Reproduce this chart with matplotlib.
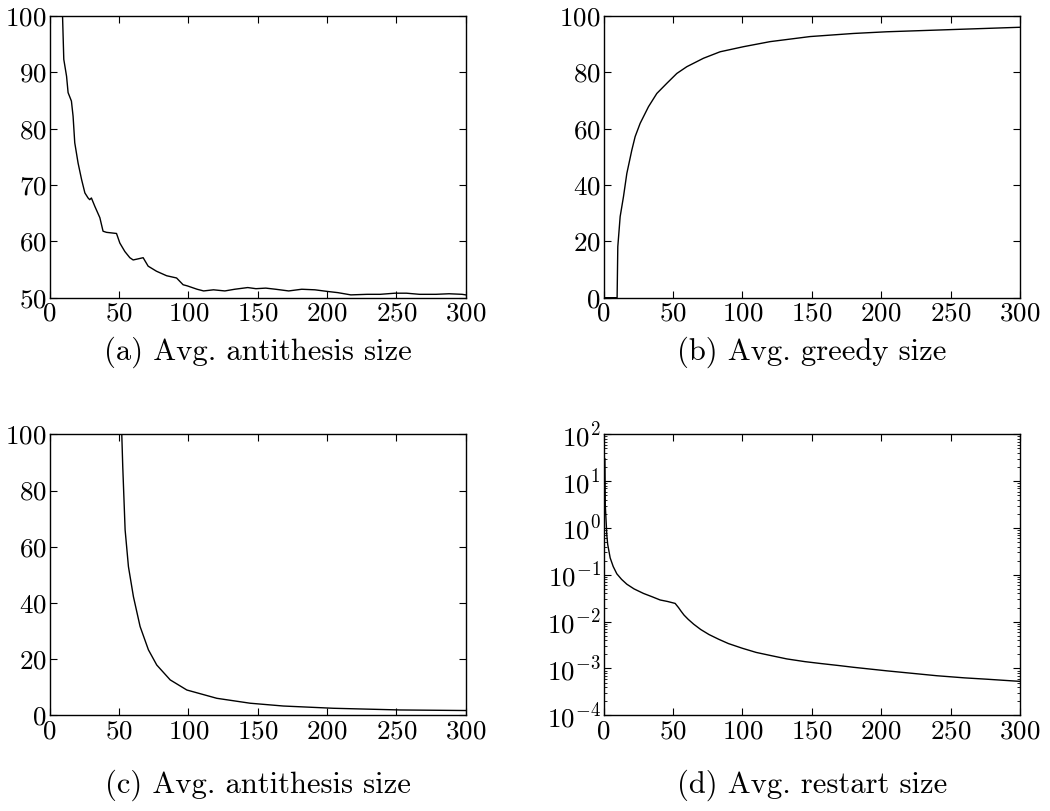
import matplotlib
matplotlib.use("Agg")
import matplotlib.pyplot as plt
from matplotlib.ticker import LogLocator, LogFormatterSciNotation, NullFormatter
import numpy as np

plt.rcParams['font.family'] = 'serif'
plt.rcParams['font.serif'] = ['cmr10']
plt.rcParams['mathtext.fontset'] = 'cm'
plt.rcParams['axes.formatter.use_mathtext'] = True

# (a) Avg. antithesis size
a_x = [8.5, 9.4, 10.3, 12.3, 13.4, 15.8, 17, 18.2, 20.6, 23.1, 25.5, 27.8, 29, 30.2, 32.7, 36.3,
       38.6, 41.1, 48.3, 50.7, 54.3, 57.9, 60.3, 64, 67.5, 71.1, 77.1, 84.4, 91.6, 96.3, 99.3,
       106.4, 111.1, 118.2, 126.4, 133.5, 142.9, 148.8, 155.9, 163, 172.4, 181.8, 191.3,
       200.7, 207.8, 217.2, 229, 238.4, 249, 257.3, 266.7, 278.5, 288, 297.4, 300]
a_y = [104, 100, 92.3, 89.3, 86.4, 84.9, 82.2, 77.5, 73.9, 71, 68.6, 67.7, 67.4, 67.7, 66.2, 64.2,
       61.8, 61.6, 61.4, 59.7, 58.2, 57.1, 56.7, 56.9, 57.1, 55.6, 54.7, 53.9, 53.5, 52.3, 52.1,
       51.5, 51.2, 51.4, 51.2, 51.5, 51.8, 51.6, 51.7, 51.5, 51.2, 51.5, 51.4,
       51.1, 50.9, 50.5, 50.6, 50.6, 50.8, 50.8, 50.6, 50.6, 50.7, 50.6, 50.5]

# (b) Avg. greedy size
b_x = [0, 9.8, 10.3, 12, 14.4, 16.8, 20.4, 22.8, 26.4, 32.4, 38.4, 45.6, 52.8, 60, 72, 84,
       100.8, 120, 148.8, 180, 204, 240, 276, 300]
b_y = [0, 0, 18.1, 28.8, 35.9, 44.1, 52.4, 57.2, 61.9, 67.8, 72.5, 76.1, 79.6, 82, 85, 87.3,
       89.1, 90.9, 92.7, 93.8, 94.4, 95, 95.6, 96]

# (c) Avg. antithesis size
c_x = [0, 52.1, 52.8, 54.5, 56.9, 60.5, 65.3, 71.3, 77.3, 87, 99, 120.6, 144.6, 168.6,
       204.7, 252.7, 300]
c_y = [100, 100, 88.5, 66, 52.9, 42.2, 31.6, 23.3, 17.9, 12.6, 9, 6.05, 4.3, 3.3,
       2.5, 1.9, 1.7]

# (d) Avg. restart size
d_x = [1, 1.3, 2.4, 3, 4.8, 7, 9.6, 13, 16.8, 22, 28.8, 35, 40.8, 46, 51.6, 54, 56, 58, 61,
       65, 70, 76, 83, 90, 100, 110, 120, 132, 145, 156, 170, 180, 204, 220, 240, 260, 276, 300]
d_y = [30, 3, 0.7, 0.45, 0.23, 0.15, 0.105, 0.08, 0.063, 0.05, 0.04, 0.034, 0.029, 0.027,
       0.0245, 0.020, 0.0165, 0.0138, 0.0112, 0.0088, 0.0068, 0.0053, 0.0042, 0.0034,
       0.0027, 0.0022, 0.0019, 0.0016, 0.0014, 0.00128, 0.00115, 0.00106, 0.00089,
       0.0008, 0.0007, 0.00063, 0.00059, 0.00053]

captions = ['(a) Avg. antithesis size', '(b) Avg. greedy size',
            '(c) Avg. antithesis size', '(d) Avg. restart size']
caption_y = [352, 352, 785, 785]

fig = plt.figure(figsize=(10.5, 8.11), dpi=100)
W, H = 1050, 811
def box(l, t, r, b):
    return [l / W, 1 - b / H, (r - l) / W, (b - t) / H]

axes = [fig.add_axes(box(49.5, 16, 465.7, 297.7)),
        fig.add_axes(box(603.5, 16, 1020, 297.7)),
        fig.add_axes(box(49.5, 434.3, 465.7, 715.3)),
        fig.add_axes(box(603.5, 434.3, 1020, 715.3))]

data = [(a_x, a_y), (b_x, b_y), (c_x, c_y), (d_x, d_y)]
ylims = [(50, 100), (0, 100), (0, 100), (1e-4, 1e2)]
ts = 19.5
for i, ax in enumerate(axes):
    x, y = data[i]
    ax.plot(x, y, color='black', lw=1.0, clip_on=True)
    if i == 3:
        ax.set_yscale('log')
        ax.yaxis.set_major_locator(LogLocator(base=10, numticks=20))
        ax.yaxis.set_major_formatter(LogFormatterSciNotation(base=10))
        ax.yaxis.set_minor_locator(LogLocator(base=10, subs=np.arange(2, 10), numticks=200))
        ax.yaxis.set_minor_formatter(NullFormatter())
    ax.set_xlim(0, 300)
    ax.set_ylim(*ylims[i])
    ax.set_xticks([0, 50, 100, 150, 200, 250, 300])
    ax.tick_params(which='major', direction='in', top=True, right=True, length=5,
                   width=0.8, labelsize=ts, pad=2)
    ax.tick_params(which='minor', direction='in', top=False, right=True, length=2.5,
                   width=0.6)
    ax.tick_params(axis='x', which='major', pad=3)
    for s in ax.spines.values():
        s.set_linewidth(1.0)
    cx = (ax.get_position().x0 + ax.get_position().x1) / 2
    fig.text(cx, 1 - caption_y[i] / H, captions[i], ha='center', va='center', fontsize=22)

fig.savefig('out.png', dpi=100)
